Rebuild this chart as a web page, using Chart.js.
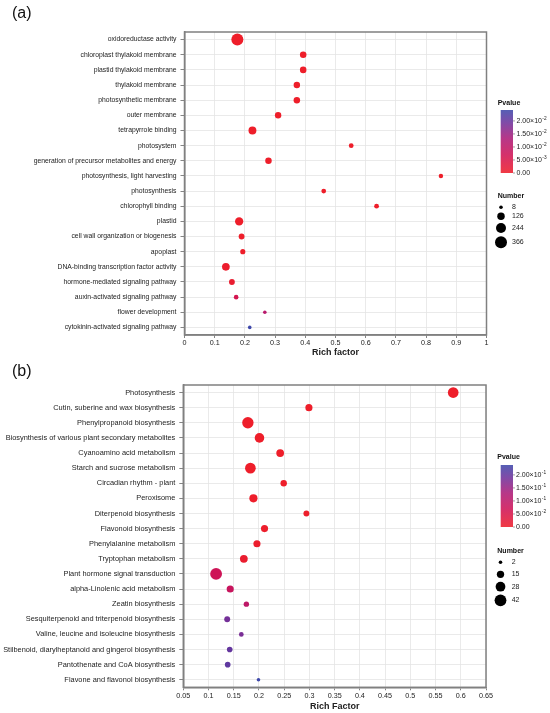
<!DOCTYPE html>
<html><head><meta charset="utf-8">
<script src="https://cdn.jsdelivr.net/npm/chart.js@4"></script>
<style>
html,body{margin:0;padding:0;background:#fff;}
#wrap{position:relative;width:550px;height:713px;overflow:hidden;}
.box{position:absolute;left:0;width:550px;}
canvas{display:block;}
</style></head><body>
<div id="wrap">
<div class="box" style="top:0;height:362px"><canvas id="ca"></canvas></div>
<div class="box" style="top:362px;height:351px"><canvas id="cb"></canvas></div>
</div>
<script>
// ---------- Panel (a) data ----------
const categoriesA = ["oxidoreductase activity","chloroplast thylakoid membrane","plastid thylakoid membrane","thylakoid membrane","photosynthetic membrane","outer membrane","tetrapyrrole binding","photosystem","generation of precursor metabolites and energy","photosynthesis, light harvesting","photosynthesis","chlorophyll binding","plastid","cell wall organization or biogenesis","apoplast","DNA-binding transcription factor activity","hormone-mediated signaling pathway","auxin-activated signaling pathway","flower development","cytokinin-activated signaling pathway"];
const richA   = [0.175,0.393,0.393,0.372,0.372,0.310,0.225,0.552,0.278,0.849,0.461,0.636,0.181,0.189,0.193,0.137,0.157,0.171,0.266,0.216];
const numberA = [366,90,90,88,88,85,143,35,88,26,35,35,160,65,45,135,65,30,8,9];
const pvalueA = [0,0,0,0,0,0,0,0,0,0,0,0,0,0,0,0.0005,0.001,0.006,0.011,0.0242];
const xTicksA = [0,0.1,0.2,0.3,0.4,0.5,0.6,0.7,0.8,0.9,1];
const xTickLabelsA = ["0","0.1","0.2","0.3","0.4","0.5","0.6","0.7","0.8","0.9","1"];
const pTicksA = [0,0.005,0.01,0.015,0.02];
const pTickLabelsA = ["0.00","5.00×10^-3","1.00×10^-2","1.50×10^-2","2.00×10^-2"];
const numLegendA = [8,126,244,366];

// ---------- Panel (b) data ----------
const categoriesB = ["Photosynthesis","Cutin, suberine and wax biosynthesis","Phenylpropanoid biosynthesis","Biosynthesis of various plant secondary metabolites","Cyanoamino acid metabolism","Starch and sucrose metabolism","Circadian rhythm - plant","Peroxisome","Diterpenoid biosynthesis","Flavonoid biosynthesis","Phenylalanine metabolism","Tryptophan metabolism","Plant hormone signal transduction","alpha-Linolenic acid metabolism","Zeatin biosynthesis","Sesquiterpenoid and triterpenoid biosynthesis","Valine, leucine and isoleucine biosynthesis","Stilbenoid, diarylheptanoid and gingerol biosynthesis","Pantothenate and CoA biosynthesis","Flavone and flavonol biosynthesis"];
const richB   = [0.585,0.299,0.178,0.201,0.242,0.183,0.249,0.189,0.294,0.211,0.196,0.170,0.115,0.143,0.175,0.137,0.165,0.142,0.138,0.199];
const numberB = [34,14,39,27,17,34,11,19,9,14,14,17,42,14,7,9,5,8,8,2];
const pvalueB = [0,0,0,0,0,0,0,0.001,0.002,0.003,0.004,0.008,0.07,0.08,0.10,0.185,0.18,0.20,0.205,0.238];
const xTicksB = [0.05,0.1,0.15,0.2,0.25,0.3,0.35,0.4,0.45,0.5,0.55,0.6,0.65];
const xTickLabelsB = ["0.05","0.1","0.15","0.2","0.25","0.3","0.35","0.4","0.45","0.5","0.55","0.6","0.65"];
const pTicksB = [0,0.05,0.1,0.15,0.2];
const pTickLabelsB = ["0.00","5.00×10^-2","1.00×10^-1","1.50×10^-1","2.00×10^-1"];
const numLegendB = [2,15,28,42];

// ---------- helpers ----------
const FONT = "'Liberation Sans', Arial, Helvetica, sans-serif";
Chart.defaults.font.family = FONT;
const colorStops = [[0,[238,30,42]],[0.3,[205,20,88]],[0.55,[172,28,120]],[0.8,[110,50,155]],[1,[62,72,170]]];
function colorAt(t){
  t = Math.max(0, Math.min(1, t));
  for (let i=1;i<colorStops.length;i++){
    const [t1,c1] = colorStops[i-1], [t2,c2] = colorStops[i];
    if (t <= t2){
      const f = (t - t1)/(t2 - t1);
      const c = c1.map((v,k)=>Math.round(v + (c2[k]-v)*f));
      return `rgb(${c[0]},${c[1]},${c[2]})`;
    }
  }
  const c = colorStops[colorStops.length-1][1];
  return `rgb(${c[0]},${c[1]},${c[2]})`;
}
function makeRadius(nmin,nmax,rmin,rmax){
  return n => Math.sqrt(rmin*rmin + (rmax*rmax - rmin*rmin)*(n - nmin)/(nmax - nmin));
}

const deco = {
  id:'deco',
  afterDraw(chart, args, o){
    const ctx = chart.ctx, a = chart.chartArea;
    ctx.save();
    ctx.strokeStyle = '#808080'; ctx.lineWidth = 1.5;
    ctx.strokeRect(a.left, a.top, a.right - a.left, a.bottom - a.top);
    ctx.fillStyle = '#111'; ctx.textBaseline = 'middle'; ctx.textAlign = 'left';
    ctx.font = `16px ${FONT}`;
    ctx.fillText(o.label, 12, o.labelY);
    ctx.font = `bold 7px ${FONT}`;
    ctx.fillStyle = '#111';
    ctx.fillText('Pvalue', o.titleX, o.pTitleY);
    const g = ctx.createLinearGradient(0, o.cbBottom, 0, o.cbTop);
    colorStops.forEach(([t,c]) => g.addColorStop(t, `rgb(${c[0]},${c[1]},${c[2]})`));
    ctx.globalAlpha = 0.88;
    ctx.fillStyle = g;
    ctx.fillRect(o.cbX, o.cbTop, o.cbW, o.cbBottom - o.cbTop);
    ctx.globalAlpha = 1;
    o.pTicks.forEach((p,i) => {
      const y = o.cbBottom - p / o.pMax * (o.cbBottom - o.cbTop);
      ctx.strokeStyle = '#777'; ctx.lineWidth = 0.7;
      ctx.beginPath(); ctx.moveTo(o.cbX + o.cbW, y); ctx.lineTo(o.cbX + o.cbW + 2, y); ctx.stroke();
      const lab = o.pLabels[i];
      ctx.fillStyle = '#222';
      ctx.font = `7px ${FONT}`;
      if (lab.includes('^')){
        const [m, e] = lab.split('^');
        ctx.fillText(m, o.cbLabX, y);
        const w = ctx.measureText(m).width;
        ctx.font = `4.8px ${FONT}`;
        ctx.fillText(e, o.cbLabX + w + 0.3, y - 2.6);
      } else {
        ctx.fillText(lab, o.cbLabX, y);
      }
    });
    ctx.font = `bold 7px ${FONT}`;
    ctx.fillStyle = '#111';
    ctx.fillText('Number', o.titleX, o.nTitleY);
    ctx.font = `7px ${FONT}`;
    o.nValues.forEach((n,i) => {
      const y = o.nYs[i];
      ctx.fillStyle = '#000';
      ctx.beginPath(); ctx.arc(o.dotX, y, o.radius(n), 0, Math.PI*2); ctx.fill();
      ctx.fillStyle = '#222';
      ctx.fillText(String(n), o.nLabX, y);
    });
    ctx.restore();
  }
};

function buildChart(id, cfg){
  const radius = makeRadius(Math.min(...cfg.num), Math.max(...cfg.num), cfg.rmin, cfg.rmax);
  const pMax = Math.max(...cfg.pv);
  const data = cfg.cats.map((c,i) => ({x: cfg.rich[i], y: c, r: radius(cfg.num[i]), p: cfg.pv[i]}));
  return new Chart(document.getElementById(id), {
    type: 'bubble',
    data: { datasets: [{
      data,
      backgroundColor: ctx => colorAt(ctx.raw ? ctx.raw.p / pMax : 0),
      borderWidth: 0,
      hoverRadius: 0
    }]},
    options: {
      responsive: true, maintainAspectRatio: false, animation: false,
      layout: { padding: cfg.padding },
      plugins: {
        legend: {display:false}, tooltip: {enabled:false},
        deco: Object.assign({}, cfg.deco, {radius, pMax})
      },
      scales: {
        x: {
          type: 'linear', min: cfg.xTicks[0], max: cfg.xTicks[cfg.xTicks.length-1],
          afterBuildTicks: s => { s.ticks = cfg.xTicks.map(v => ({value: v})); },
          afterFit: s => { s.height = cfg.xHeight; },
          ticks: { callback: (v,i) => cfg.xLabels[i], font: {size: 7.2}, color: '#222', padding: cfg.xTickPad, maxRotation: 0, autoSkip: false },
          grid: { color: '#e4e4e4', lineWidth: 0.8, tickColor: '#666', tickLength: 3 },
          border: { color: '#808080', width: 1.5 },
          title: { display: true, text: cfg.xTitle, color: '#222', font: {size: 9, weight: 'bold'}, padding: {top: 0, bottom: cfg.titlePad} }
        },
        y: {
          type: 'category', labels: cfg.cats, offset: true, reverse: cfg.reverse,
          afterFit: s => { s.width = cfg.yWidth; },
          ticks: { font: {size: cfg.yFont}, color: '#222', padding: 4, autoSkip: false },
          grid: { color: '#e4e4e4', lineWidth: 0.8, offset: false, tickColor: '#666', tickLength: 4 },
          border: { color: '#808080', width: 1.5 }
        }
      }
    },
    plugins: [deco]
  });
}

buildChart('ca', {
  cats: categoriesA, rich: richA, num: numberA, pv: pvalueA, rmin: 1.8, rmax: 6.0,
  xTicks: xTicksA, xLabels: xTickLabelsA, xTitle: 'Rich factor',
  padding: {left: 0, right: 63.5, top: 32, bottom: 0},
  xHeight: 27, xTickPad: 1, titlePad: 3.6, yWidth: 184.5, yFont: 6.8, reverse: false,
  deco: { label: '(a)', labelY: 13.5, titleX: 497.7, pTitleY: 102.7, cbX: 500.7, cbW: 12.3, cbTop: 110, cbBottom: 173, cbLabX: 516.5,
          pTicks: pTicksA, pLabels: pTickLabelsA, nTitleY: 196, nValues: numLegendA, nYs: [207.3,216.3,228,242.3], dotX: 501, nLabX: 512 }
});

buildChart('cb', {
  cats: categoriesB, rich: richB, num: numberB, pv: pvalueB, rmin: 1.8, rmax: 5.9,
  xTicks: xTicksB, xLabels: xTickLabelsB, xTitle: 'Rich Factor',
  padding: {left: 0, right: 64, top: 23, bottom: 0},
  xHeight: 25.7, xTickPad: 1.5, titlePad: 0.6, yWidth: 183.3, yFont: 7.4, reverse: false,
  deco: { label: '(b)', labelY: 9.5, titleX: 497.3, pTitleY: 94.7, cbX: 500.7, cbW: 12.3, cbTop: 103, cbBottom: 165, cbLabX: 516,
          pTicks: pTicksB, pLabels: pTickLabelsB, nTitleY: 189, nValues: numLegendB, nYs: [200.3,212.3,224.7,238.3], dotX: 500.5, nLabX: 511.7 }
});
</script>
</body></html>
